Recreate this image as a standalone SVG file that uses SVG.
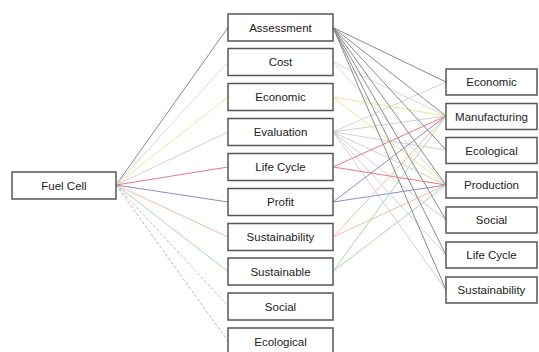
<svg xmlns="http://www.w3.org/2000/svg" width="539" height="352" viewBox="0 0 539 352">
<style>
.box{fill:#fff;stroke:#555;stroke-width:1.5}
.t{font-family:"Liberation Sans",Arial,sans-serif;font-size:11.5px;fill:#222;text-anchor:middle;dominant-baseline:central}
.c line{stroke-width:1;fill:none}
.g{stroke:#8a8a8a}
.lg{stroke:#d2d2d2}
.cs{stroke:#d2dfcc}
.y{stroke:#f3e29a}
.r{stroke:#ea7a84}
.p{stroke:#9488cc}
.o{stroke:#f3bca4}
.gr{stroke:#a4dca4}
.m{stroke:#eaa2cc;stroke-dasharray:3 2}
.b{stroke:#b0b0d8;stroke-dasharray:3 2}
</style>
<rect width="539" height="352" fill="#fff"/>
<g id="connectors" class="c">
<line class="g" x1="116" y1="185" x2="228" y2="27.5"/>
<line class="cs" x1="116" y1="185" x2="228" y2="62"/>
<line class="y" x1="116" y1="185" x2="228" y2="97"/>
<line class="lg" x1="116" y1="185" x2="228" y2="132"/>
<line class="r" x1="116" y1="185" x2="228" y2="167"/>
<line class="p" x1="116" y1="185" x2="228" y2="202"/>
<line class="o" x1="116" y1="185" x2="228" y2="237"/>
<line class="gr" x1="116" y1="185" x2="228" y2="271.5"/>
<line class="m" x1="116" y1="185" x2="228" y2="306"/>
<line class="b" x1="116" y1="185" x2="228" y2="341"/>

<line class="lg" x1="333" y1="132" x2="446" y2="82"/>
<line class="lg" x1="333" y1="132" x2="446" y2="116"/>
<line class="lg" x1="333" y1="132" x2="446" y2="150"/>
<line class="lg" x1="333" y1="132" x2="446" y2="185"/>
<line class="lg" x1="333" y1="132" x2="446" y2="220"/>
<line class="lg" x1="333" y1="132" x2="446" y2="255"/>
<line class="lg" x1="333" y1="132" x2="446" y2="290"/>
<line class="cs" x1="333" y1="62" x2="446" y2="116"/>
<line class="cs" x1="333" y1="62" x2="446" y2="185"/>
<line class="y" x1="333" y1="97" x2="446" y2="116"/>
<line class="y" x1="333" y1="97" x2="446" y2="185"/>
<line class="r" x1="333" y1="167" x2="446" y2="116"/>
<line class="r" x1="333" y1="167" x2="446" y2="185"/>
<line class="p" x1="333" y1="202" x2="446" y2="116"/>
<line class="p" x1="333" y1="202" x2="446" y2="185"/>
<line class="o" x1="333" y1="237" x2="446" y2="116"/>
<line class="o" x1="333" y1="237" x2="446" y2="185"/>
<line class="gr" x1="333" y1="271.5" x2="446" y2="116"/>
<line class="gr" x1="333" y1="271.5" x2="446" y2="185"/>
<line class="g" x1="333" y1="27.5" x2="446" y2="82"/>
<line class="g" x1="333" y1="27.5" x2="446" y2="116"/>
<line class="g" x1="333" y1="27.5" x2="446" y2="150"/>
<line class="g" x1="333" y1="27.5" x2="446" y2="185"/>
<line class="g" x1="333" y1="27.5" x2="446" y2="220"/>
<line class="g" x1="333" y1="27.5" x2="446" y2="255"/>
<line class="g" x1="333" y1="27.5" x2="446" y2="290"/>
</g>
<g id="fuel-cell"><rect class="box" x="12" y="172" width="104" height="27"/><text class="t" x="64" y="185.5">Fuel Cell</text></g>
<g id="m-assessment"><rect class="box" x="228" y="14" width="105" height="27"/><text class="t" x="280.5" y="27.5">Assessment</text></g>
<g id="m-cost"><rect class="box" x="228" y="48.5" width="105" height="27"/><text class="t" x="280.5" y="62">Cost</text></g>
<g id="m-economic"><rect class="box" x="228" y="83.5" width="105" height="27"/><text class="t" x="280.5" y="97">Economic</text></g>
<g id="m-evaluation"><rect class="box" x="228" y="118.5" width="105" height="27"/><text class="t" x="280.5" y="132">Evaluation</text></g>
<g id="m-lifecycle"><rect class="box" x="228" y="153.5" width="105" height="27"/><text class="t" x="280.5" y="167">Life Cycle</text></g>
<g id="m-profit"><rect class="box" x="228" y="188.5" width="105" height="27"/><text class="t" x="280.5" y="202">Profit</text></g>
<g id="m-sustainability"><rect class="box" x="228" y="223.5" width="105" height="27"/><text class="t" x="280.5" y="237">Sustainability</text></g>
<g id="m-sustainable"><rect class="box" x="228" y="258" width="105" height="27"/><text class="t" x="280.5" y="271.5">Sustainable</text></g>
<g id="m-social"><rect class="box" x="228" y="293" width="105" height="27"/><text class="t" x="280.5" y="306.5">Social</text></g>
<g id="m-ecological"><rect class="box" x="228" y="328" width="105" height="27"/><text class="t" x="280.5" y="341.5">Ecological</text></g>
<g id="r-economic"><rect class="box" x="446" y="69" width="91" height="26"/><text class="t" x="491.5" y="82">Economic</text></g>
<g id="r-manufacturing"><rect class="box" x="446" y="103.5" width="91" height="26"/><text class="t" x="491.5" y="116.5">Manufacturing</text></g>
<g id="r-ecological"><rect class="box" x="446" y="137.5" width="91" height="26"/><text class="t" x="491.5" y="150.5">Ecological</text></g>
<g id="r-production"><rect class="box" x="446" y="172" width="91" height="26"/><text class="t" x="491.5" y="185">Production</text></g>
<g id="r-social"><rect class="box" x="446" y="207" width="91" height="26"/><text class="t" x="491.5" y="220">Social</text></g>
<g id="r-lifecycle"><rect class="box" x="446" y="242" width="91" height="26"/><text class="t" x="491.5" y="255">Life Cycle</text></g>
<g id="r-sustainability"><rect class="box" x="446" y="277" width="91" height="26"/><text class="t" x="491.5" y="290">Sustainability</text></g>
</svg>
